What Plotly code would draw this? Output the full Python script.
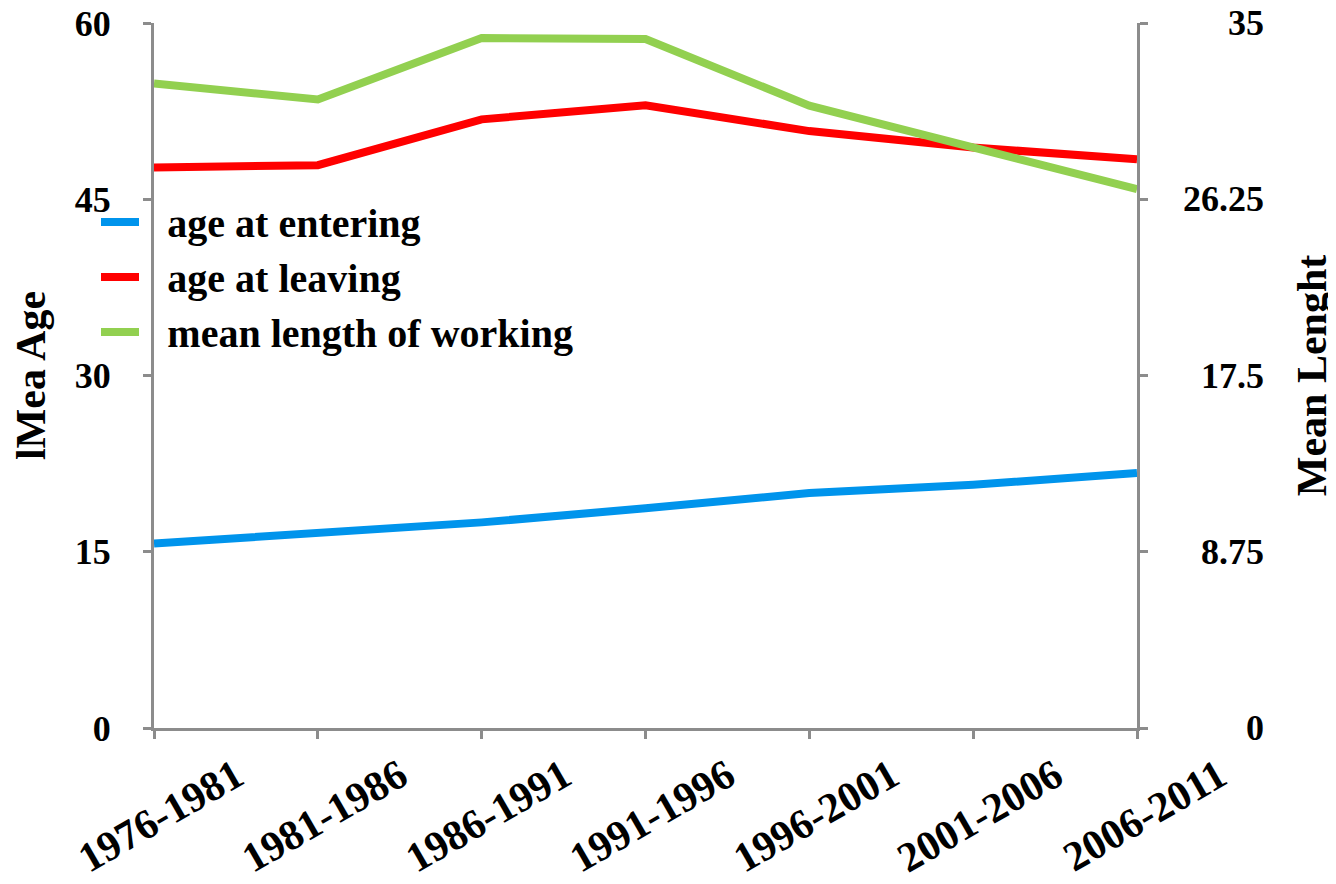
import plotly.graph_objects as go

categories = ["1976-1981", "1981-1986", "1986-1991", "1991-1996", "1996-2001", "2001-2006", "2006-2011"]
age_entering = [15.7, 16.6, 17.5, 18.7, 20.0, 20.7, 21.7]
age_leaving = [47.7, 47.9, 51.8, 53.0, 50.8, 49.4, 48.4]
mean_length = [32.0, 31.2, 34.25, 34.2, 30.9, 28.8, 26.75]

left_ticks = [0, 15, 30, 45, 60]
right_ticks = [0, 8.75, 17.5, 26.25, 35]

FF = "Liberation Serif"
axis_color = "#8c8c8c"
NB = "\u00a0\u00a0\u200a"

def bf(size):
    return dict(family=FF, size=size, color="black", weight="bold")

fig = go.Figure()
fig.add_trace(go.Scatter(x=categories, y=age_entering, name=NB + "age at entering", mode="lines",
                         line=dict(color="#0094EC", width=8)))
fig.add_trace(go.Scatter(x=categories, y=age_leaving, name=NB + "age at leaving", mode="lines",
                         line=dict(color="#FF0000", width=8)))
fig.add_trace(go.Scatter(x=categories, y=mean_length, name=NB + "mean length of working", mode="lines",
                         line=dict(color="#92D050", width=8), yaxis="y2"))

axis_common = dict(showline=True, linecolor=axis_color, linewidth=3,
                   ticks="outside", ticklen=8, tickcolor=axis_color, tickwidth=3,
                   showgrid=False, zeroline=False, automargin=False)

fig.update_layout(
    width=1328, height=876,
    margin=dict(l=146, r=199, t=15, b=156),
    plot_bgcolor="white", paper_bgcolor="white",
    font=bf(36),
    showlegend=True,
    legend=dict(x=-0.059, y=0.764, xanchor="left", yanchor="top",
                font=bf(40), bgcolor="rgba(0,0,0,0)", itemwidth=38, tracegroupgap=0),
    xaxis=dict(
        type="category", range=[0, 6], tickangle=-30,
        tickfont=bf(42), ticklabelshift=82, ticklabelstandoff=-4,
        ticklabeloverflow="allow",
        **axis_common,
    ),
    yaxis=dict(
        range=[0, 60], tickvals=left_ticks, ticktext=[str(v) for v in left_ticks],
        tickfont=bf(36), ticklabelstandoff=25, ticklabeloverflow="allow",
        title=dict(text="lMea Age", font=bf(42), standoff=36),
        **axis_common,
    ),
    yaxis2=dict(
        range=[0, 35], tickvals=right_ticks, showticklabels=False,
        overlaying="y", side="right",
        title=dict(text="Mean Lenght", font=bf(42), standoff=150),
        **axis_common,
    ),
)

for v in right_ticks:
    fig.add_annotation(x=1.131, xref="paper", y=v, yref="y2", text=f"{v:g}",
                       showarrow=False, xanchor="right", yanchor="middle", font=bf(36))

fig.write_html("out.html")
